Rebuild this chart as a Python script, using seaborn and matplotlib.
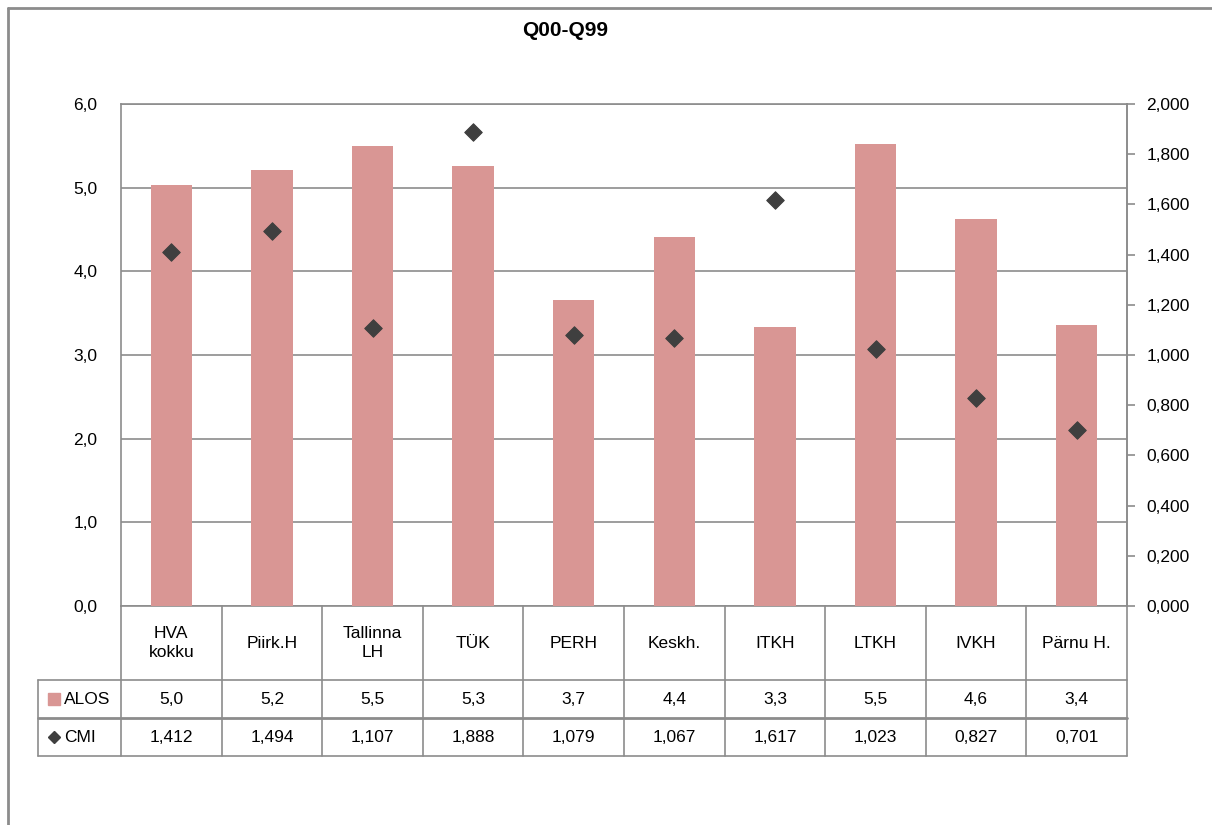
import numpy as np
import pandas as pd
import matplotlib
matplotlib.use('Agg')
import matplotlib.pyplot as plt
import matplotlib.transforms as mtransforms
from matplotlib.lines import Line2D
from matplotlib.patches import Rectangle
from matplotlib.ticker import FuncFormatter, MultipleLocator
import seaborn as sns

# data
hospitals = ['HVA\nkokku', 'Piirk.H', 'Tallinna\nLH', 'TÜK', 'PERH',
             'Keskh.', 'ITKH', 'LTKH', 'IVKH', 'Pärnu H.']
alos = [5.03, 5.21, 5.50, 5.26, 3.66, 4.41, 3.33, 5.52, 4.63, 3.36]
cmi = [1.412, 1.494, 1.107, 1.888, 1.079, 1.067, 1.617, 1.023, 0.827, 0.701]

df = pd.DataFrame({'hospital': hospitals, 'ALOS': alos, 'CMI': cmi})

bar_color = '#d99694'
mark_color = '#3f3f3f'
line_color = '#8c8c8c'

sns.set_theme(style='white')
plt.rcParams['font.family'] = ['Liberation Sans', 'DejaVu Sans']
plt.rcParams['text.color'] = 'black'
plt.rcParams['ytick.labelcolor'] = 'black'

fig = plt.figure(figsize=(12.12, 8.25), dpi=100)
W, H = 1212, 825
ax = fig.add_axes([121 / W, 1 - 606 / H, 1006 / W, 502 / H])

sns.barplot(data=df, x='hospital', y='ALOS', color=bar_color, width=0.41,
            saturation=1, linewidth=0, ax=ax, zorder=3)
ax.set_xlim(-0.5, 9.5)
ax.set_ylim(0, 6)
ax.yaxis.set_major_locator(MultipleLocator(1))
ax.yaxis.set_major_formatter(FuncFormatter(lambda v, p: f'{v:.1f}'.replace('.', ',')))
ax.tick_params(axis='y', length=0, pad=17, labelsize=12.5, labelcolor='black')
ax.set_xticks([])
ax.set_xlabel('')
ax.set_ylabel('')
ax.grid(axis='y', color=line_color, lw=1.2, zorder=0)
for s in ['left', 'top', 'bottom', 'right']:
    ax.spines[s].set_color(line_color)
    ax.spines[s].set_linewidth(1.2)

ax2 = ax.twinx()
sns.scatterplot(data=df, x='hospital', y='CMI', marker='D', s=80,
                color=mark_color, edgecolor=mark_color, ax=ax2, zorder=4)
ax2.set_ylim(0, 2)
ax2.yaxis.set_major_locator(MultipleLocator(0.2))
ax2.yaxis.set_major_formatter(FuncFormatter(lambda v, p: f'{v:.3f}'.replace('.', ',')))
ax2.tick_params(axis='y', length=6, width=1.2, color=line_color, pad=8,
                labelsize=12.5, direction='out', labelcolor='black')
ax2.set_ylabel('')
ax2.set_xlabel('')
for s in ['left', 'top', 'bottom', 'right']:
    ax2.spines[s].set_visible(s == 'right')
ax2.spines['right'].set_color(line_color)
ax2.spines['right'].set_linewidth(1.2)

# data table under the plot
tr = mtransforms.blended_transform_factory(ax.transData, ax.transAxes)
y_head = -74 / 502
y_alos = -112 / 502
y_cmi = -150 / 502
x_left = -0.5 + (38 - 121) / 100.6
lk = dict(color=line_color, lw=1.2, transform=tr, clip_on=False)
for yy, lw in [(y_head, 1.2), (y_alos, 2.0), (y_cmi, 1.2)]:
    ax.add_line(Line2D([x_left, 9.5], [yy, yy], **{**lk, 'lw': lw}))
for i in range(11):
    xb = -0.5 + i
    ax.add_line(Line2D([xb, xb], [0, y_cmi], **lk))
ax.add_line(Line2D([x_left, x_left], [y_head, y_cmi], **lk))

for i, name in enumerate(hospitals):
    ax.text(i, (0 + y_head) / 2, name, transform=tr, ha='center', va='center',
            fontsize=12.5, linespacing=1.4)
    ax.text(i, (y_head + y_alos) / 2, f'{alos[i]:.1f}'.replace('.', ','),
            transform=tr, ha='center', va='center', fontsize=12.5)
    ax.text(i, (y_alos + y_cmi) / 2, f'{cmi[i]:.3f}'.replace('.', ','),
            transform=tr, ha='center', va='center', fontsize=12.5)

# legend keys inside the table
key_x = -0.5 + (48 - 121) / 100.6
ax.add_patch(Rectangle((key_x, (y_head + y_alos) / 2 - 0.012), 0.12, 0.024,
                       transform=tr, color=bar_color, clip_on=False))
ax.text(key_x + 0.16, (y_head + y_alos) / 2, 'ALOS', transform=tr,
        ha='left', va='center', fontsize=12.5)
ax.plot([key_x + 0.06], [(y_alos + y_cmi) / 2], marker='D', ms=6,
        color=mark_color, transform=tr, clip_on=False)
ax.text(key_x + 0.16, (y_alos + y_cmi) / 2, 'CMI', transform=tr,
        ha='left', va='center', fontsize=12.5)

fig.text(565 / W, 1 - 30 / H, 'Q00-Q99', ha='center', va='center',
         fontsize=15, fontweight='bold')

# outer chart frame
fig.add_artist(Line2D([8 / W, 8 / W], [0, 1 - 8 / H], color=line_color, lw=2))
fig.add_artist(Line2D([8 / W, 1], [1 - 8 / H, 1 - 8 / H], color=line_color, lw=2))

fig.savefig('out.png', dpi=100, facecolor='white')
